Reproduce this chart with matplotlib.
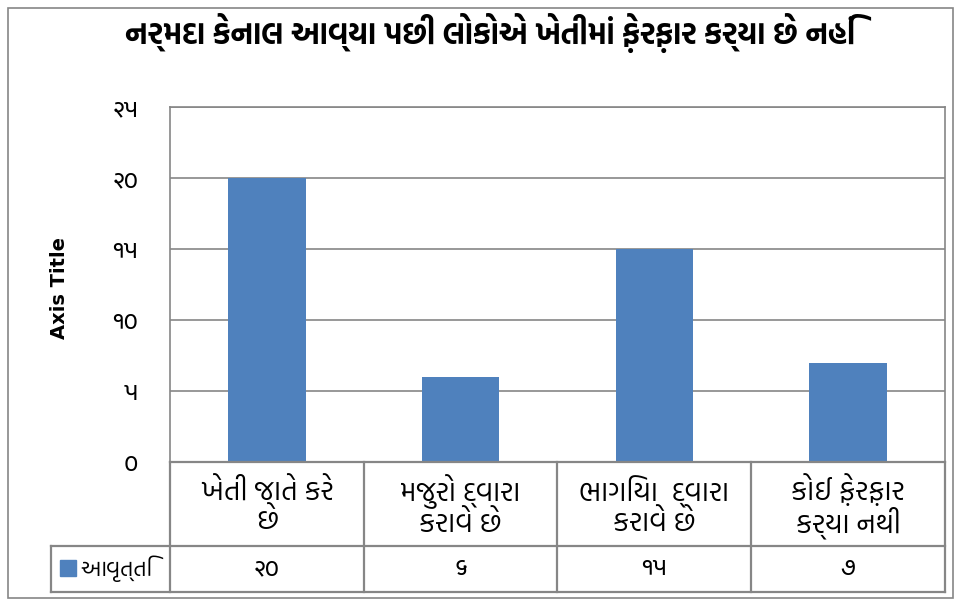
import matplotlib
matplotlib.use("Agg")
import matplotlib.pyplot as plt
from matplotlib import font_manager as fm
from matplotlib.ft2font import FT2Font
from matplotlib.patches import Rectangle
from matplotlib.lines import Line2D
import matplotlib.patheffects as pe

title = "નર્મદા કેનાલ આવ્યા પછી લોકોએ ખેતીમાં ફ઼ેરફ઼ાર કર્યા છે નહિં"
categories = ["ખેતી જાતે કરે\nછે", "મજુરો દ્વારા\nકરાવે છે", "ભાગિયા  દ્વારા\nકરાવે છે", "કોઈ ફ઼ેરફ઼ાર\nકર્યા નથી"]
series_name = "આવૃત્તિ"
values = [20, 6, 15, 7]
yticks = [0, 5, 10, 15, 20, 25]
y_axis_title = "Axis Title"

GUJ_DIGITS = str.maketrans("0123456789", "૦૧૨૩૪૫૬૭૮૯")
def guj(n):
    return str(n).translate(GUJ_DIGITS)

# collect installed families that cover Gujarati letters / digits
fam_info = {}
for f in fm.fontManager.ttflist:
    try:
        cmap = FT2Font(f.fname).get_charmap()
    except Exception:
        continue
    if ord("ક") not in cmap and ord("૨") not in cmap:
        continue
    w = f.weight if isinstance(f.weight, int) else (700 if str(f.weight).lower() in ("bold", "heavy", "black") else 400)
    info = fam_info.setdefault(f.name, {"bold": False, "letters": False, "digits": False})
    if w >= 600:
        info["bold"] = True
    if ord("ક") in cmap:
        info["letters"] = True
    if ord("૨") in cmap:
        info["digits"] = True

ordered = sorted(fam_info.items(),
                 key=lambda kv: (not (kv[1]["bold"] and kv[1]["letters"]), not kv[1]["letters"]))
letter_fams = [nm for nm, inf in ordered]
digit_fams = [nm for nm, inf in ordered if inf["digits"]] + [nm for nm, inf in ordered if not inf["digits"]]
has_bold = bool(ordered) and ordered[0][1]["bold"]
families = letter_fams + ["DejaVu Sans"]
dfamilies = digit_fams + ["DejaVu Sans"]
plt.rcParams['font.family'] = families

W, H = 962, 604
fig = plt.figure(figsize=(W / 100, H / 100), dpi=100)
fig.patch.set_facecolor("white")

def fx(px): return px / W
def fy(py): return 1 - py / H

L, R, T, B = 170, 945, 107, 462
ax = fig.add_axes([fx(L), fy(B), fx(R) - fx(L), fy(T) - fy(B)])
n = len(categories)
ax.set_xlim(0, n)
ax.set_ylim(0, 25)
ax.bar([i + 0.5 for i in range(n)], values, width=0.4, color="#4F81BD", zorder=3)
ax.set_yticks(yticks)
ax.set_yticklabels([guj(v) for v in yticks], fontsize=18, family=dfamilies)
ax.tick_params(axis='y', length=0, pad=23)
ax.set_xticks([])
ax.yaxis.grid(True, color="#868686", linewidth=1.2, zorder=0)
for s in ["left", "top", "right"]:
    ax.spines[s].set_color("#868686")
    ax.spines[s].set_linewidth(1.2)
ax.spines["bottom"].set_visible(False)

gray = "#868686"
lw = 1.6
def hline(y, x0, x1):
    fig.add_artist(Line2D([fx(x0), fx(x1)], [fy(y), fy(y)], color=gray, lw=lw))
def vline(x, y0, y1):
    fig.add_artist(Line2D([fx(x), fx(x)], [fy(y0), fy(y1)], color=gray, lw=lw))

row1, row2, row3 = 462, 546, 592
legL = 51
hline(row1, L, R)
hline(row2, legL, R)
hline(row3, legL, R)
colw = (R - L) / n
for i in range(n + 1):
    vline(L + i * colw, row1, row3)
vline(legL, row2, row3)

for i, c in enumerate(categories):
    cx = L + (i + 0.5) * colw
    fig.text(fx(cx), fy((row1 + row2) / 2 + 2), c, ha="center", va="center",
             fontsize=20, linespacing=1.05, color="black")
    fig.text(fx(cx), fy((row2 + row3) / 2), guj(values[i]), ha="center", va="center",
             fontsize=18, color="black", family=dfamilies)

fig.add_artist(Rectangle((fx(60), fy(576)), fx(16), fy(560) - fy(576), color="#4F81BD",
                         transform=fig.transFigure))
fig.text(fx(80), fy((row2 + row3) / 2), series_name, ha="left", va="center", fontsize=16)

t = fig.text(fx(490), fy(33), title, ha="center", va="center", fontsize=22, fontweight="bold")
if not has_bold:
    t.set_path_effects([pe.withStroke(linewidth=1.3, foreground="black")])
fig.text(fx(60), fy(288), y_axis_title, ha="center", va="center", rotation=90,
         fontsize=14, fontweight="bold", family=["DejaVu Sans"])

fig.add_artist(Rectangle((fx(8), fy(598)), fx(953) - fx(8), fy(8) - fy(598), fill=False,
                         edgecolor=gray, lw=1.2, transform=fig.transFigure))

fig.savefig("out.png", dpi=100, facecolor="white")
